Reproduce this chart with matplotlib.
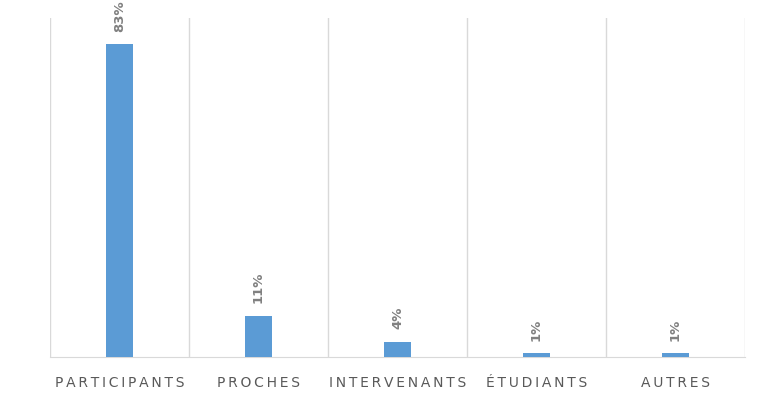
import matplotlib.pyplot as plt
import numpy as np

# repartition des repondants
categories = ['PARTICIPANTS', 'PROCHES', 'INTERVENANTS', 'ÉTUDIANTS', 'AUTRES']
valeurs = [83, 11, 4, 1, 1]

plt.rcParams['font.family'] = ['DejaVu Sans']

fig = plt.figure(figsize=(7.6, 3.93), dpi=100)
ax = fig.add_axes([50/760, 36/393, 695/760, 339/393])

x = np.arange(len(categories))
ax.bar(x, valeurs, width=0.19, color='#5B9BD5', zorder=3)

# etiquettes de valeur verticales au dessus des barres
for xi, v in zip(x, valeurs):
    ax.annotate(str(v) + '%', (xi, v), xytext=(0, 9), textcoords='offset points',
                rotation=90, ha='center', va='bottom',
                fontsize=9.5, color='#808080', fontweight='bold')

ax.set_xlim(-0.5, len(categories) - 0.5)
ax.set_ylim(0, 90)

# lignes verticales entre les categories
for b in np.arange(-0.5, len(categories), 1.0):
    ax.axvline(b, color='#D9D9D9', lw=1, zorder=1)

for s in ['top', 'right', 'left']:
    ax.spines[s].set_visible(False)
ax.spines['bottom'].set_color('#D9D9D9')
ax.set_yticks([])
ax.set_xticks(x)
# espacement des lettres
ax.set_xticklabels(['\u2009'.join(c) for c in categories], fontsize=10, color='#595959')
ax.tick_params(axis='x', length=0, pad=14)

fig.savefig('out.png', dpi=100)
